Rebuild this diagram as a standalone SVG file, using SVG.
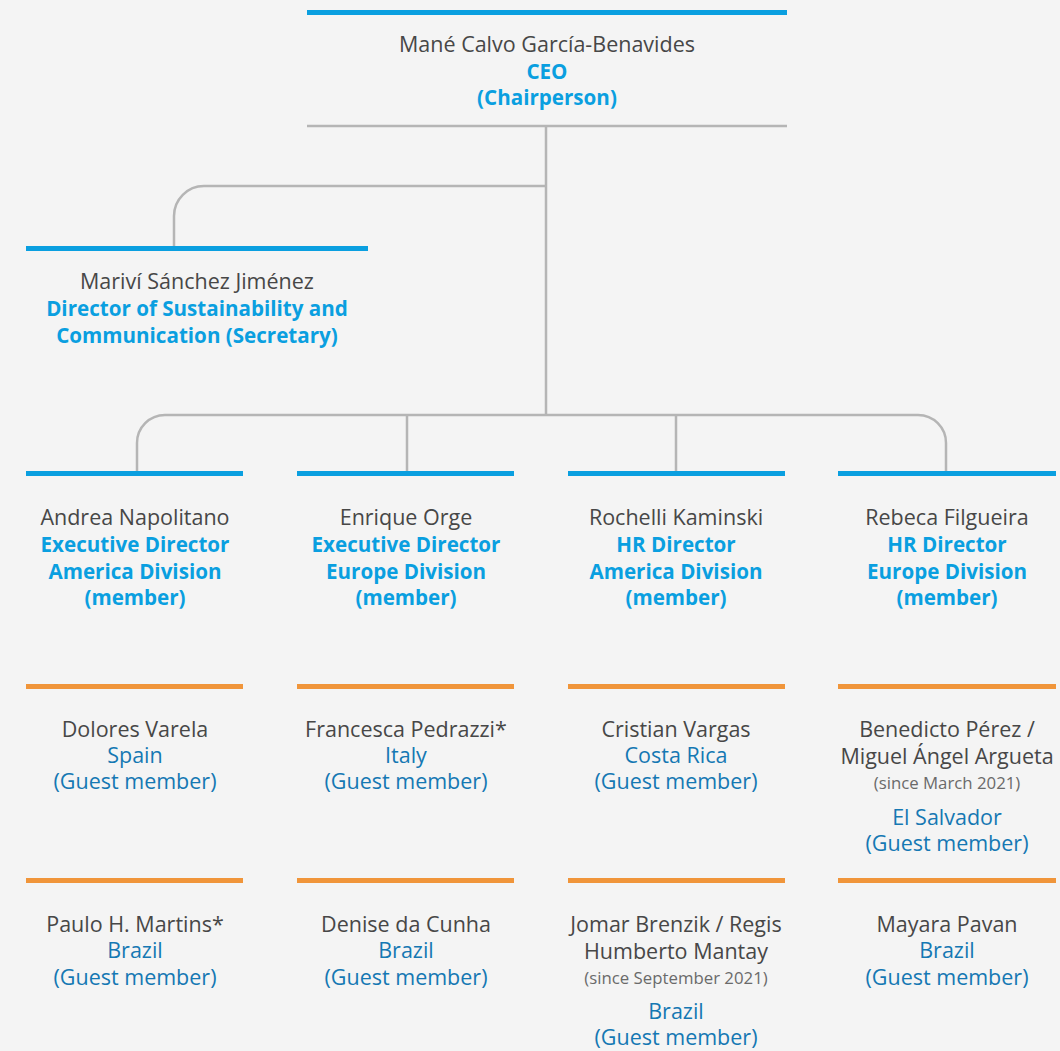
<svg xmlns="http://www.w3.org/2000/svg" width="1060" height="1051" viewBox="0 0 1060 1051">
  <style>
    text { font-family: "Open Sans", "Liberation Sans", sans-serif; text-anchor: middle; }
    .nm { font-size: 21.5px; fill: #474747; }
    .role { font-size: 20.6px; font-weight: bold; fill: #0a9fe0; }
    .gst { font-size: 21.5px; fill: #1578b3; }
    .sm { font-size: 16.8px; fill: #6a6a6a; }
    .bar-blue { fill: #0a9fe0; }
    .bar-orange { fill: #f0953a; }
    .rule { stroke: #b5b5b5; stroke-width: 2.5; fill: none; }
  </style>
  <rect width="1060" height="1051" fill="#f4f4f4"/>

  <!-- connectors -->
  <g id="connectors" class="rule">
    <line x1="546" y1="126" x2="546" y2="416"/>
    <path d="M546 186 H204 A30 30 0 0 0 174 216 V247"/>
    <path d="M165 415 H918 A28 28 0 0 1 946 443 V473"/>
    <path d="M165 415 A28 28 0 0 0 137 443 V473"/>
    <line x1="407" y1="415" x2="407" y2="473"/>
    <line x1="676" y1="415" x2="676" y2="473"/>
  </g>

  <!-- chair -->
  <g id="ceo">
    <rect class="bar-blue" x="307" y="10" width="480" height="5"/>
    <line class="rule" x1="307" y1="126" x2="787" y2="126"/>
    <text class="nm" x="547" y="52">Mané Calvo García-Benavides</text>
    <text class="role" x="547" y="79">CEO</text>
    <text class="role" x="547" y="105">(Chairperson)</text>
  </g>

  <!-- secretary -->
  <g id="secretary">
    <rect class="bar-blue" x="26" y="246" width="342" height="5"/>
    <text class="nm" x="197" y="289">Mariví Sánchez Jiménez</text>
    <text class="role" x="197" y="316">Director of Sustainability and</text>
    <text class="role" x="197" y="343">Communication (Secretary)</text>
  </g>

  <!-- members -->
  <g id="member-napolitano">
    <rect class="bar-blue" x="26" y="471" width="217" height="5"/>
    <text class="nm" x="135" y="525">Andrea Napolitano</text>
    <text class="role" x="135" y="552">Executive Director</text>
    <text class="role" x="135" y="579">America Division</text>
    <text class="role" x="135" y="605">(member)</text>
  </g>
  <g id="member-orge">
    <rect class="bar-blue" x="297" y="471" width="217" height="5"/>
    <text class="nm" x="406" y="525">Enrique Orge</text>
    <text class="role" x="406" y="552">Executive Director</text>
    <text class="role" x="406" y="579">Europe Division</text>
    <text class="role" x="406" y="605">(member)</text>
  </g>
  <g id="member-kaminski">
    <rect class="bar-blue" x="568" y="471" width="217" height="5"/>
    <text class="nm" x="676" y="525">Rochelli Kaminski</text>
    <text class="role" x="676" y="552">HR Director</text>
    <text class="role" x="676" y="579">America Division</text>
    <text class="role" x="676" y="605">(member)</text>
  </g>
  <g id="member-filgueira">
    <rect class="bar-blue" x="838" y="471" width="218" height="5"/>
    <text class="nm" x="947" y="525">Rebeca Filgueira</text>
    <text class="role" x="947" y="552">HR Director</text>
    <text class="role" x="947" y="579">Europe Division</text>
    <text class="role" x="947" y="605">(member)</text>
  </g>

  <!-- guest members, first row -->
  <g id="guest-varela">
    <rect class="bar-orange" x="26" y="684" width="217" height="5"/>
    <text class="nm" x="135" y="737">Dolores Varela</text>
    <text class="gst" x="135" y="763">Spain</text>
    <text class="gst" x="135" y="789">(Guest member)</text>
  </g>
  <g id="guest-pedrazzi">
    <rect class="bar-orange" x="297" y="684" width="217" height="5"/>
    <text class="nm" x="406" y="737">Francesca Pedrazzi*</text>
    <text class="gst" x="406" y="763">Italy</text>
    <text class="gst" x="406" y="789">(Guest member)</text>
  </g>
  <g id="guest-vargas">
    <rect class="bar-orange" x="568" y="684" width="217" height="5"/>
    <text class="nm" x="676" y="737">Cristian Vargas</text>
    <text class="gst" x="676" y="763">Costa Rica</text>
    <text class="gst" x="676" y="789">(Guest member)</text>
  </g>
  <g id="guest-perez-argueta">
    <rect class="bar-orange" x="838" y="684" width="218" height="5"/>
    <text class="nm" x="947" y="737">Benedicto Pérez /</text>
    <text class="nm" x="947" y="764">Miguel Ángel Argueta</text>
    <text class="sm" x="947" y="789">(since March 2021)</text>
    <text class="gst" x="947" y="825">El Salvador</text>
    <text class="gst" x="947" y="851">(Guest member)</text>
  </g>

  <!-- guest members, second row -->
  <g id="guest-martins">
    <rect class="bar-orange" x="26" y="878" width="217" height="5"/>
    <text class="nm" x="135" y="932">Paulo H. Martins*</text>
    <text class="gst" x="135" y="958">Brazil</text>
    <text class="gst" x="135" y="985">(Guest member)</text>
  </g>
  <g id="guest-cunha">
    <rect class="bar-orange" x="297" y="878" width="217" height="5"/>
    <text class="nm" x="406" y="932">Denise da Cunha</text>
    <text class="gst" x="406" y="958">Brazil</text>
    <text class="gst" x="406" y="985">(Guest member)</text>
  </g>
  <g id="guest-brenzik-mantay">
    <rect class="bar-orange" x="568" y="878" width="217" height="5"/>
    <text class="nm" x="676" y="932">Jomar Brenzik / Regis</text>
    <text class="nm" x="676" y="959">Humberto Mantay</text>
    <text class="sm" x="676" y="984">(since September 2021)</text>
    <text class="gst" x="676" y="1019">Brazil</text>
    <text class="gst" x="676" y="1045">(Guest member)</text>
  </g>
  <g id="guest-pavan">
    <rect class="bar-orange" x="838" y="878" width="218" height="5"/>
    <text class="nm" x="947" y="932">Mayara Pavan</text>
    <text class="gst" x="947" y="958">Brazil</text>
    <text class="gst" x="947" y="985">(Guest member)</text>
  </g>
</svg>
